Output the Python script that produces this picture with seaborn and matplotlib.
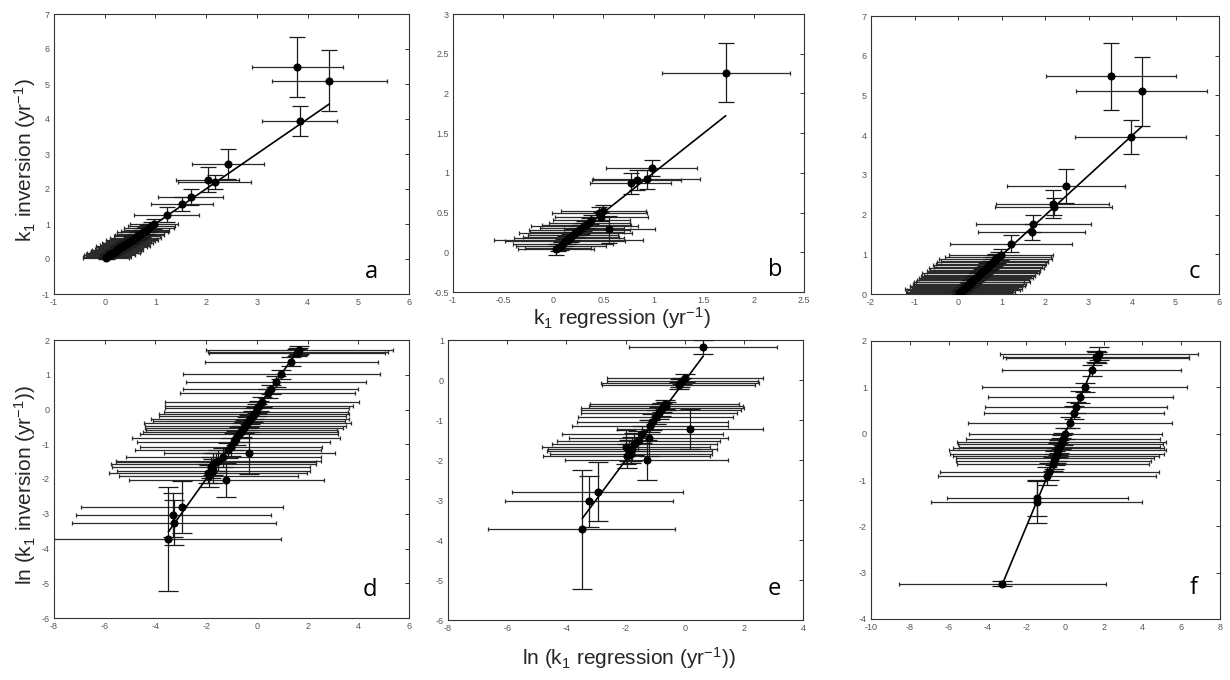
import matplotlib
matplotlib.use("Agg")
import matplotlib.pyplot as plt
import seaborn as sns
from matplotlib.ticker import MultipleLocator, FuncFormatter

sns.set_theme(style="white")
plt.rcParams['font.family'] = ['Liberation Sans', 'DejaVu Sans']
plt.rcParams['mathtext.fontset'] = 'custom'
plt.rcParams['mathtext.rm'] = 'Liberation Sans'
plt.rcParams['mathtext.it'] = 'Liberation Sans'
plt.rcParams['axes.unicode_minus'] = False

# ---------------- data ----------------
# panel a: k1 regression vs k1 inversion
a_x = [0.02, 0.04, 0.07, 0.09, 0.12, 0.14, 0.17, 0.19, 0.22, 0.25, 0.27, 0.31, 0.33, 0.36, 0.39, 0.42,
       0.45, 0.47, 0.51, 0.54, 0.57, 0.61, 0.64, 0.68, 0.71, 0.75, 0.79, 0.83, 0.87, 0.92, 0.97,
       1.22, 1.52, 1.70, 2.03, 2.17, 2.43, 3.85, 3.80, 4.43]
a_y = [0.03, 0.06, 0.08, 0.11, 0.13, 0.16, 0.18, 0.21, 0.23, 0.26, 0.29, 0.31, 0.35, 0.37, 0.40, 0.43,
       0.45, 0.49, 0.52, 0.55, 0.58, 0.61, 0.66, 0.69, 0.72, 0.76, 0.80, 0.84, 0.88, 0.93, 0.99,
       1.27, 1.57, 1.77, 2.27, 2.20, 2.72, 3.95, 5.48, 5.10]
a_xerr = [0.45, 0.47, 0.43, 0.50, 0.48, 0.44, 0.52, 0.46, 0.49, 0.51, 0.47, 0.45, 0.50, 0.53, 0.48, 0.46,
          0.50, 0.44, 0.49, 0.52, 0.47, 0.50, 0.45, 0.48, 0.46, 0.50, 0.47, 0.44, 0.49, 0.46, 0.48,
          0.64, 0.61, 0.64, 0.62, 0.72, 0.71, 0.74, 0.90, 1.13]
a_yerr = [0.04, 0.05, 0.05, 0.06, 0.05, 0.06, 0.07, 0.06, 0.07, 0.08, 0.07, 0.08, 0.08, 0.09, 0.08, 0.09,
          0.10, 0.09, 0.10, 0.10, 0.11, 0.10, 0.11, 0.12, 0.11, 0.12, 0.12, 0.13, 0.12, 0.14, 0.14,
          0.22, 0.20, 0.22, 0.36, 0.21, 0.43, 0.43, 0.85, 0.88]
fit_a_x = [0.02, 4.43]
fit_a_y = [0.03, 4.43]

# panel b
b_x = [0.03, 0.05, 0.08, 0.10, 0.12, 0.15, 0.16, 0.18, 0.20, 0.22, 0.24, 0.26, 0.29, 0.31, 0.33, 0.36,
       0.38, 0.46, 0.48, 0.50, 0.56, 0.77, 0.83, 0.93, 0.98, 1.72]
b_y = [0.04, 0.06, 0.08, 0.11, 0.14, 0.16, 0.18, 0.19, 0.22, 0.24, 0.25, 0.28, 0.30, 0.33, 0.34, 0.37,
       0.41, 0.49, 0.45, 0.52, 0.29, 0.87, 0.91, 0.92, 1.06, 2.26]
b_xerr = [0.38, 0.33, 0.45, 0.50, 0.60, 0.74, 0.55, 0.48, 0.45, 0.56, 0.47, 0.50, 0.42, 0.53, 0.44, 0.40,
          0.38, 0.47, 0.46, 0.42, 0.45, 0.40, 0.44, 0.53, 0.45, 0.64]
b_yerr = [0.07, 0.05, 0.05, 0.06, 0.06, 0.05, 0.05, 0.06, 0.07, 0.05, 0.06, 0.06, 0.07, 0.06, 0.05, 0.06,
          0.06, 0.08, 0.06, 0.08, 0.17, 0.13, 0.13, 0.12, 0.10, 0.37]
fit_b_x = [0.02, 1.72]
fit_b_y = [0.02, 1.72]

# panel c (same inversion values as a)
c_x = [0.03, 0.06, 0.08, 0.12, 0.13, 0.17, 0.18, 0.22, 0.23, 0.27, 0.28, 0.32, 0.34, 0.37, 0.41, 0.43,
       0.46, 0.49, 0.52, 0.55, 0.58, 0.62, 0.65, 0.69, 0.72, 0.76, 0.80, 0.84, 0.86, 0.91, 0.99,
       1.21, 1.69, 1.73, 2.18, 2.20, 2.48, 3.97, 3.52, 4.22]
c_y = a_y
c_xerr = [1.20, 1.25, 1.18, 1.30, 1.35, 1.22, 1.28, 1.32, 1.26, 1.30, 1.24, 1.33, 1.29, 1.27, 1.31, 1.25,
          1.30, 1.28, 1.34, 1.26, 1.30, 1.27, 1.32, 1.25, 1.29, 1.26, 1.28, 1.24, 1.30, 1.22, 1.20,
          1.40, 1.23, 1.32, 1.30, 1.34, 1.35, 1.27, 1.50, 1.50]
c_yerr = a_yerr
fit_c_x = [0.03, 4.22]
fit_c_y = [0.00, 4.21]

# panel d: ln values
d_x = [1.68, 1.62, 1.60, 1.36, 0.97, 0.75, 0.55, 0.42, 0.21, 0.08, 0.02, -0.05, -0.12, -0.17, -0.26,
       -0.31, -0.38, -0.45, -0.50, -0.60, -0.64, -0.70, -0.82, -0.91, -1.02, -1.14, -0.30, -1.33, -1.52,
       -1.60, -1.72, -1.80, -1.72, -1.93, -1.90, -1.20, -2.95, -3.30, -3.27, -3.52]
d_y = [1.71, 1.66, 1.63, 1.38, 1.01, 0.80, 0.58, 0.47, 0.22, 0.10, 0.03, -0.06, -0.12, -0.19, -0.28,
       -0.33, -0.38, -0.47, -0.52, -0.59, -0.65, -0.71, -0.83, -0.93, -1.07, -1.17, -1.26, -1.38, -1.47,
       -1.52, -1.57, -1.66, -1.77, -1.84, -1.91, -2.03, -2.80, -3.04, -3.26, -3.73]
d_xerr = [3.70, 3.55, 3.47, 3.40, 3.89, 3.54, 3.45, 3.45, 3.83, 3.70, 3.63, 3.63, 3.75, 3.68, 3.91,
          3.80, 4.09, 3.98, 3.90, 3.77, 3.85, 3.91, 4.10, 3.80, 3.60, 3.66, 3.37, 3.84, 4.05,
          3.95, 4.04, 3.90, 3.81, 3.89, 3.53, 3.83, 3.97, 3.84, 4.03, 4.47]
d_yerr = [0.12, 0.10, 0.10, 0.12, 0.14, 0.15, 0.12, 0.13, 0.15, 0.14, 0.12, 0.13, 0.15, 0.16, 0.15,
          0.17, 0.16, 0.18, 0.17, 0.20, 0.18, 0.22, 0.20, 0.24, 0.26, 0.22, 0.60, 0.28, 0.30,
          0.26, 0.32, 0.30, 0.35, 0.28, 0.32, 0.48, 0.74, 0.63, 0.65, 1.49]
fit_d_x = [-3.49, 1.68]
fit_d_y = [-3.52, 1.75]

# panel e
e_x = [0.62, 0.02, -0.08, -0.16, -0.20, -0.68, -0.62, -0.75, -0.80, -0.87, -0.98, -1.10, -1.17, 0.18,
       -1.44, -1.22, -1.57, -1.70, -1.98, -1.77, -1.87, -1.80, -1.96, -1.28, -2.93, -3.24, -3.48]
e_y = [0.83, 0.06, -0.02, -0.08, -0.13, -0.61, -0.66, -0.69, -0.75, -0.82, -0.92, -1.06, -1.15, -1.23,
       -1.36, -1.46, -1.53, -1.60, -1.67, -1.73, -1.77, -1.84, -1.90, -2.01, -2.79, -3.03, -3.73]
e_xerr = [2.49, 2.63, 2.55, 2.68, 2.58, 2.52, 2.60, 2.75, 2.70, 2.63, 2.62, 2.55, 2.65, 2.46,
          2.72, 2.69, 2.76, 2.80, 2.83, 2.85, 2.78, 2.74, 2.82, 2.76, 2.89, 2.83, 3.17]
e_yerr = [0.17, 0.10, 0.08, 0.10, 0.09, 0.12, 0.10, 0.12, 0.14, 0.15, 0.18, 0.20, 0.16, 0.50,
          0.22, 0.45, 0.25, 0.28, 0.42, 0.30, 0.26, 0.24, 0.30, 0.50, 0.74, 0.64, 1.49]
fit_e_x = [-3.46, 0.63]
fit_e_y = [-3.46, 0.60]

# panel f
f_x = [1.75, 1.62, 1.68, 1.38, 1.02, 0.80, 0.58, 0.46, 0.26, 0.02, -0.12, -0.17, -0.22, -0.28, -0.33,
       -0.36, -0.42, -0.47, -0.51, -0.58, -0.63, -0.80, -0.92, -1.42, -1.45, -3.22]
f_y = [1.72, 1.66, 1.64, 1.37, 1.00, 0.79, 0.57, 0.45, 0.24, 0.00, -0.12, -0.17, -0.22, -0.28, -0.32,
       -0.35, -0.44, -0.48, -0.53, -0.60, -0.66, -0.82, -0.91, -1.39, -1.48, -3.24]
f_xerr = [5.10, 4.80, 4.70, 4.63, 5.27, 4.77, 4.68, 4.64, 5.26, 4.99, 5.00, 5.38, 5.30, 5.18, 5.45,
          5.60, 5.53, 5.30, 5.09, 5.03, 4.95, 5.64, 5.63, 4.68, 5.44, 5.33]
f_yerr = [0.14, 0.12, 0.12, 0.12, 0.10, 0.13, 0.12, 0.14, 0.12, 0.12, 0.13, 0.15, 0.12, 0.14, 0.13,
          0.15, 0.14, 0.16, 0.15, 0.16, 0.15, 0.18, 0.20, 0.38, 0.45, 0.05]
fit_f_x = [-3.22, 1.75]
fit_f_y = [-3.24, 1.74]

panel_letters = ["a", "b", "c", "d", "e", "f"]
ylabel_top = "k$_1$ inversion (yr$^{-1}$)"
ylabel_bottom = "ln (k$_1$ inversion (yr$^{-1}$))"
xlabel_top = "k$_1$ regression (yr$^{-1}$)"
xlabel_bottom = "ln (k$_1$ regression (yr$^{-1}$))"

# ---------------- layout ----------------
W, H = 1230, 680
fig = plt.figure(figsize=(W / 100, H / 100), dpi=100)
fig.patch.set_facecolor('white')

def px_axes(left, top, right, bottom):
    return fig.add_axes([left / W, 1 - bottom / H, (right - left) / W, (bottom - top) / H])

panels = [
    dict(box=(54, 14, 409, 294), x=a_x, y=a_y, xe=a_xerr, ye=a_yerr, fx=fit_a_x, fy=fit_a_y,
         xlim=(-1, 6), xs=1, ylim=(-1, 7), ys=1, cap=5.5, let=(0.895, 0.08)),
    dict(box=(453, 14, 804, 292), x=b_x, y=b_y, xe=b_xerr, ye=b_yerr, fx=fit_b_x, fy=fit_b_y,
         xlim=(-1, 2.5), xs=0.5, ylim=(-0.5, 3), ys=0.5, cap=5.5, let=(0.917, 0.08)),
    dict(box=(871, 16, 1219, 294), x=c_x, y=c_y, xe=c_xerr, ye=c_yerr, fx=fit_c_x, fy=fit_c_y,
         xlim=(-2, 6), xs=1, ylim=(0, 7), ys=1, cap=5.5, let=(0.93, 0.08)),
    dict(box=(54, 340, 409, 618), x=d_x, y=d_y, xe=d_xerr, ye=d_yerr, fx=fit_d_x, fy=fit_d_y,
         xlim=(-8, 6), xs=2, ylim=(-6, 2), ys=1, cap=7.5, let=(0.89, 0.10)),
    dict(box=(448, 340, 803, 620), x=e_x, y=e_y, xe=e_xerr, ye=e_yerr, fx=fit_e_x, fy=fit_e_y,
         xlim=(-8, 4), xs=2, ylim=(-6, 1), ys=1, cap=7.5, let=(0.918, 0.11)),
    dict(box=(871, 341, 1220, 619), x=f_x, y=f_y, xe=f_xerr, ye=f_yerr, fx=fit_f_x, fy=fit_f_y,
         xlim=(-10, 8), xs=2, ylim=(-4, 2), ys=1, cap=7.5, let=(0.924, 0.11)),
]

fmt = FuncFormatter(lambda v, p: ('%g' % round(v, 6)))

for p, letter in zip(panels, panel_letters):
    ax = px_axes(*p['box'])
    ax.set_facecolor('white')
    # horizontal error bars
    ax.errorbar(p['x'], p['y'], xerr=p['xe'], fmt='none', ecolor='#2b2b2b',
                elinewidth=0.9, capsize=1.6, capthick=0.9, zorder=2)
    # vertical error bars
    ax.errorbar(p['x'], p['y'], yerr=p['ye'], fmt='none', ecolor='#1a1a1a',
                elinewidth=0.9, capsize=p['cap'], capthick=0.9, zorder=3)
    sns.lineplot(x=p['fx'], y=p['fy'], ax=ax, color='black', linewidth=1.2,
                 sort=False, estimator=None, zorder=4)
    sns.scatterplot(x=p['x'], y=p['y'], ax=ax, color='black', s=34, linewidth=0, zorder=5)
    ax.set_xlim(*p['xlim'])
    ax.set_ylim(*p['ylim'])
    ax.xaxis.set_major_locator(MultipleLocator(p['xs']))
    ax.yaxis.set_major_locator(MultipleLocator(p['ys']))
    ax.xaxis.set_major_formatter(fmt)
    ax.yaxis.set_major_formatter(fmt)
    ax.tick_params(direction='in', length=3, width=0.7, top=True, right=True,
                   labelsize=6.5, labelcolor='#555555', color='#333333', pad=3)
    for s in ax.spines.values():
        s.set_color('#333333')
        s.set_linewidth(0.8)
        s.set_visible(True)
    ax.set_xlabel('')
    ax.set_ylabel('')
    ax.text(p['let'][0], p['let'][1], letter, transform=ax.transAxes,
            fontsize=17, family=['Open Sans', 'DejaVu Sans'], ha='center', va='center', color='black')

fig.text(25 / W, 1 - 160 / H, ylabel_top, rotation=90, ha='center', va='center', fontsize=15)
fig.text(25 / W, 1 - 485 / H, ylabel_bottom, rotation=90, ha='center', va='center', fontsize=15)
fig.text(622 / W, 1 - 318 / H, xlabel_top, ha='center', va='center', fontsize=15)
fig.text(629 / W, 1 - 658 / H, xlabel_bottom, ha='center', va='center', fontsize=15)

fig.savefig('out.png', dpi=100, facecolor='white')
